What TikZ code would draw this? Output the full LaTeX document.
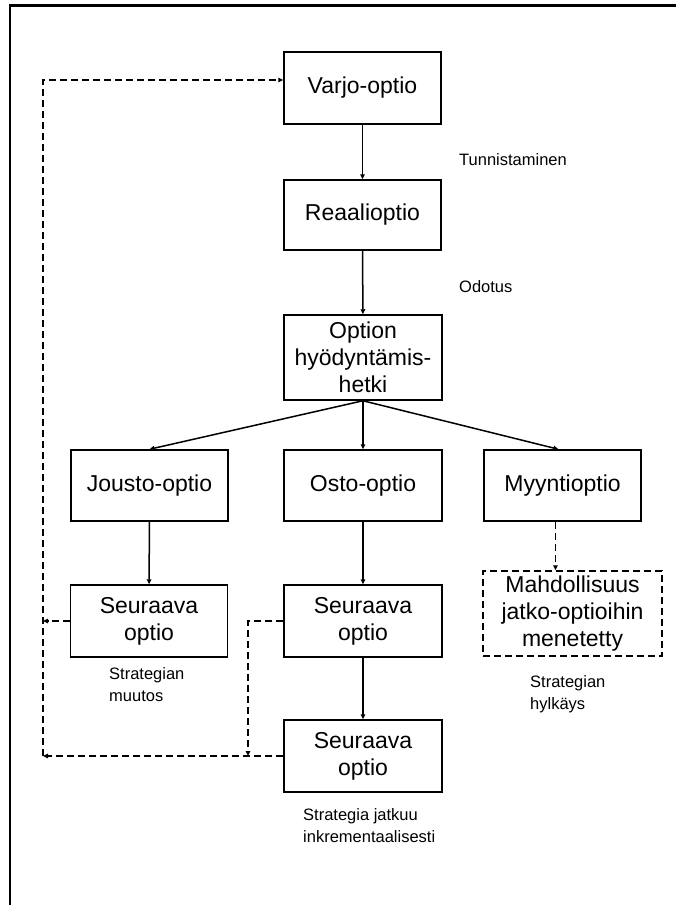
\documentclass[tikz,border=0pt]{standalone}
\usepackage{fontspec}
\setmainfont{Liberation Sans}
\usetikzlibrary{arrows.meta}
\begin{document}
\begin{tikzpicture}[x=1pt,y=-1pt,
  box/.style={draw, line width=1.5pt, inner sep=0pt, minimum width=157pt,
    minimum height=72pt, align=center, font=\fontsize{23}{27}\selectfont},
  dashbox/.style={box, dash pattern=on 7pt off 4pt},
  arr/.style={line width=1.5pt, -{Triangle[length=5pt,width=4.5pt]}},
  darr/.style={arr, dash pattern=on 7pt off 4pt},
  lab/.style={font=\fontsize{16.5}{22}\selectfont, inner sep=0pt,
    anchor=base west, align=left}]
\useasboundingbox (0,0) rectangle (676,905);

% frame
\draw[line width=2.5pt] (10,905) -- (10,5.5) -- (676,5.5);

% main chain
\node[box] (varjo) at (362.5,88) {Varjo-optio};
\node[box, minimum height=70pt] (reaali) at (362.5,215) {Reaalioptio};
\node[box, minimum width=158pt, minimum height=85pt] (hetki) at (363,357.5)
  {Option\\hyödyntämis-\\hetki};

% three branches
\node[box, minimum height=71pt] (jousto) at (149.5,485.5) {Jousto-optio};
\node[box, minimum width=158pt, minimum height=71pt] (osto) at (363,485.5) {Osto-optio};
\node[box, minimum height=71pt] (myynti) at (562.5,485.5) {Myyntioptio};

% follow-up options
\node[box] (seurL) at (149,621) {Seuraava\\optio};
\node[box, minimum width=158pt] (seurM) at (363,621) {Seuraava\\optio};
\node[box, minimum width=158pt] (seurB) at (363,756) {Seuraava\\optio};
\node[dashbox, minimum width=179pt, minimum height=85pt] (menetetty) at (572.5,613.5)
  {Mahdollisuus\\jatko-optioihin\\menetetty};

% solid arrows
\draw[arr] (varjo) -- (reaali);
\draw[arr] (reaali) -- (hetki);
\draw[arr] (hetki.south) -- (jousto.north);
\draw[arr] (hetki.south) -- (osto.north);
\draw[arr] (hetki.south) -- ([xshift=-4pt]myynti.north);
\draw[arr] (jousto) -- (seurL);
\draw[arr] (osto) -- (seurM);
\draw[arr] (seurM) -- (seurB);

% dashed arrows
\draw[darr] ([xshift=-7pt]myynti.south) -- ([xshift=-7pt]myynti.south |- menetetty.north);

\coordinate (rail) at (43,0);
\coordinate (midrail) at (248,0);
\coordinate (top) at (43,80);

\draw[darr] (seurL.west) -- (seurL.west -| rail);
\draw[darr] (seurB.west) -- (seurB.west -| rail);
\draw[darr] (seurM.west) -| (midrail |- seurB.west);
\draw[darr] (seurB.west -| rail) -- (top) -- (top -| varjo.west);

% labels (base anchor sits on the last line)
\node[lab] (l1) at (459,165) {Tunnistaminen};
\node[lab] (l2) at (459,292.5) {Odotus};
\node[lab] (l3) at (109,701) {Strategian\\muutos};
\node[lab] (l4) at (530,709) {Strategian\\hylkäys};
\node[lab] (l5) at (303,842) {Strategia jatkuu\\inkrementaalisesti};
\end{tikzpicture}
\end{document}
